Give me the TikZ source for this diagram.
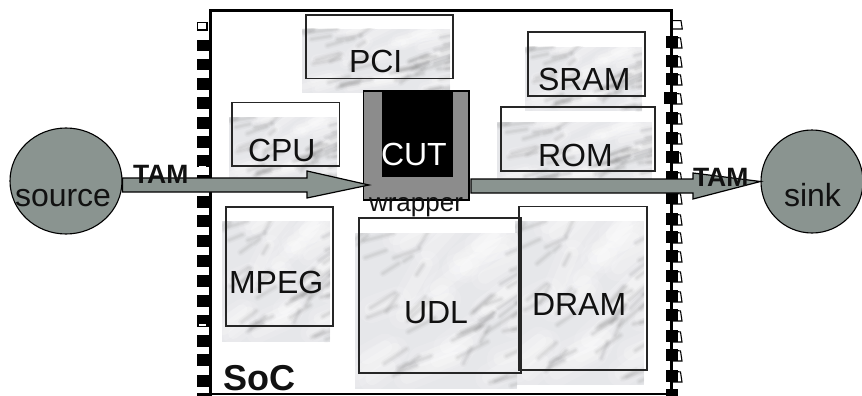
\documentclass[tikz,border=0pt]{standalone}
\usepackage{fontspec}
\setmainfont{Liberation Sans}
\definecolor{disc}{HTML}{8A9490}
\definecolor{wrapgray}{HTML}{8C8C8C}
\definecolor{marblebase}{HTML}{E6E7EA}
\definecolor{ink}{HTML}{111111}
\newcommand{\fs}[1]{\fontsize{#1}{#1}\selectfont}
\newcommand{\marble}[4]{%
  \begin{scope}
    \clip (#1,#2) rectangle ++(#3,#4);
    \fill[marblebase] (#1,#2) rectangle ++(#3,#4);
    \pgfmathsetseed{4711}
    \foreach \i in {1,...,26}{%
      \pgfmathsetmacro{\ax}{#1+#3*rnd}\pgfmathsetmacro{\ay}{#2+#4*rnd}
      \pgfmathsetmacro{\dx}{#3*(0.1+0.2*rnd)}\pgfmathsetmacro{\dy}{-#4*(0.06+0.14*rnd)}
      \draw[white,opacity=.12,line width=.16*#4+2pt,line cap=round] (\ax,\ay) -- ++(\dx,\dy);
      \draw[white,opacity=.2,line width=.08*#4+1pt,line cap=round] (\ax,\ay) -- ++(\dx,\dy);
    }
    \foreach \i in {1,...,46}{%
      \pgfmathsetmacro{\ax}{#1+#3*rnd}\pgfmathsetmacro{\ay}{#2+#4*rnd}
      \pgfmathsetmacro{\dx}{#3*(0.04+0.16*rnd)}\pgfmathsetmacro{\dy}{-#4*(0.02+0.12*rnd)}
      \draw[gray,opacity=.05,line width=7pt,line cap=round] (\ax,\ay) -- ++(\dx,\dy);
      \draw[gray,opacity=.07,line width=4pt,line cap=round] (\ax,\ay) -- ++(\dx,\dy);
      \draw[gray,opacity=.07,line width=2pt,line cap=round] (\ax,\ay) -- ++(\dx,\dy);
    }
  \end{scope}}
\tikzset{
  x=1pt,y=-1pt,
  blockbox/.style={draw=black!85,line width=1.2pt},
  lbl/.style={anchor=base west,inner sep=0pt,outer sep=0pt,text=ink},
  blockarrow/.style={fill=disc,draw=black,line width=1.2pt,line join=miter},
  padfill/.style={fill=black,draw=none},
  tab/.style={fill=white,draw=black,line width=1.1pt},
  discnode/.style={ellipse,draw=black,line width=1.1pt,fill=disc,inner sep=0pt}
}
\usetikzlibrary{shapes.geometric}
\begin{document}
\begin{tikzpicture}
\useasboundingbox (0,0) rectangle (862,396);
\clip (0,0) rectangle (862,396);
% left pads
\foreach \y in {40,59,78,97,117,136,155,175,196,215,235,255,275,295,315,335,354,375}{
  \fill[padfill] (197,\y) rectangle (209,\y+11.5);
}
\draw[black,line width=1.1pt,fill=white] (197.5,22.5) rectangle (207,30);
\fill[white] (199,165.8) rectangle (206,167);
\fill[white] (199,323.5) rectangle (206,325.5);
% right tabs and pads
\draw[tab] (671,20.7) -- (681,20.7) -- (682.3,29) -- (671,29) -- cycle;
\foreach \y in {36,55,73,92,112,132,151,171,192,213,231,250,270,290,309,330,349,370}{
  \draw[tab] (672,\y+1) -- (680.5,\y+2) -- (682,\y+12) -- (672,\y+12) -- cycle;
}
\foreach \y/\l/\r in {36/666/678,55/666/678,73/666/678,92/664/677,112/666/678,132/666/678,151/666/679,171/666/678,192/666/678,213/666/678,231/666/678,250/666/678,270/666/678,290/666/678,309/666/678,330/666/678,349/666/678,370/666/678,389/666/678}{
  \fill[padfill] (\l,\y) rectangle (\r,\y+12);
}
% die outline
\draw[black,line width=3pt] (197,394) -- (210,394) -- (210,11) -- (671,11) -- (671,394);
\draw[black,line width=1.5pt] (210,394) -- (671,394);
% blocks
\marble{302}{29}{148}{64}
\draw[blockbox] (306,15) rectangle (453,78.5);
\marble{525}{47}{117}{64}
\draw[blockbox] (528,32) rectangle (645,96);
\marble{497}{122}{155}{65}
\draw[blockbox] (501,107) rectangle (655,171);
\marble{229}{117}{108}{64}
\draw[blockbox] (232,102.5) rectangle (339.5,166);
\marble{222}{221}{108}{121}
\draw[blockbox] (226,207) rectangle (333,326);
\marble{515}{221}{129}{164}
\draw[blockbox] (519,206.5) rectangle (647,370);
\marble{355}{233}{162}{156}
\draw[blockbox] (359,218) rectangle (521,373);
% wrapper and core
\draw[fill=wrapgray,draw=black,line width=1.2pt] (363.5,91) rectangle (469,200);
\fill[black] (382,91.5) rectangle (453,177);
% discs
\node[discnode,minimum width=112pt,minimum height=106pt] (source) at (66,181) {};
\node[discnode,minimum width=102pt,minimum height=103pt] (sink) at (812,181.5) {};
% arrows
\coordinate (tipL) at (369,185);
\coordinate (tipR) at (sink.west);
\draw[blockarrow] (source.east |- 0,178) -- (307,178) -- (307,171) -- (tipL) -- (307,198) -- (307,192) -- (source.east |- 0,192) -- cycle;
\draw[blockarrow] (471,179) -- (693,179) -- (693,173) -- (tipR) -- (693,199) -- (693,193) -- (471,193) -- cycle;
% labels
\node[lbl] (lsource) at (15,206) {\fs{32}source};
\node[lbl] (lsink) at (784,206) {\fs{32}sink};
\node[lbl] (ltaml) at (133,183) {\fs{26.5}\bfseries TAM};
\node[lbl] (ltamr) at (693,186) {\fs{26.5}\bfseries TAM};
\node[lbl] (lpci) at (349,73) {\fs{32}PCI};
\node[lbl] (lsram) at (538,91) {\fs{32}SRAM};
\node[lbl] (lrom) at (538,166) {\fs{32}ROM};
\node[lbl,text=white] (lcut) at (381,165) {\fs{32}CUT};
\node[lbl] (lcpu) at (248,161) {\fs{32}CPU};
\node[lbl] (lmpeg) at (229,293) {\fs{32}MPEG};
\node[lbl] (ludl) at (404,323) {\fs{32}UDL};
\node[lbl] (ldram) at (532,315) {\fs{32}DRAM};
\node[lbl] (lsoc) at (223,390) {\fs{36}\bfseries SoC};
\node[lbl] (lwrap) at (369,211) {\fs{26}wrapper};
\end{tikzpicture}
\end{document}
